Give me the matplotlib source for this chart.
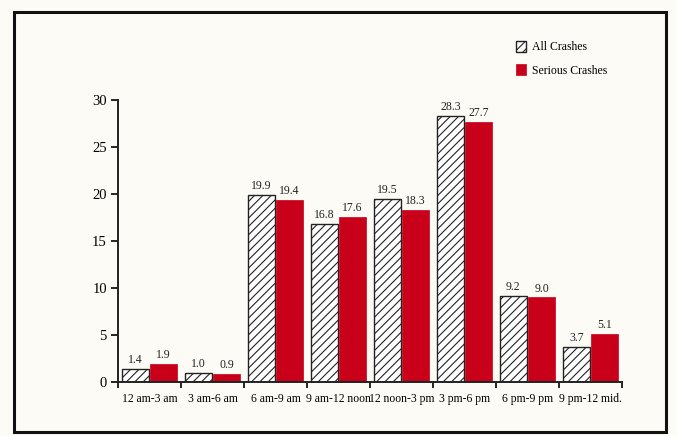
import matplotlib
matplotlib.use("Agg")
import matplotlib.pyplot as plt
from matplotlib.patches import Rectangle
import numpy as np

categories = ["12 am-3 am", "3 am-6 am", "6 am-9 am", "9 am-12 noon",
              "12 noon-3 pm", "3 pm-6 pm", "6 pm-9 pm", "9 pm-12 mid."]
all_crashes = [1.4, 1.0, 19.9, 16.8, 19.5, 28.3, 9.2, 3.7]
serious_crashes = [1.9, 0.9, 19.4, 17.6, 18.3, 27.7, 9.0, 5.1]
yticks = [0, 5, 10, 15, 20, 25, 30]

plt.rcParams['font.family'] = ['Liberation Serif', 'DejaVu Serif']
plt.rcParams['hatch.linewidth'] = 0.8

W, H = 677, 436
bg = '#fcfbf5'
red = '#c8001a'
fig = plt.figure(figsize=(W / 100, H / 100), dpi=100, facecolor=bg)

# outer frame
fig.patches.append(Rectangle((14 / W, 1 - 432 / H), (666 - 14) / W, (432 - 12) / H,
                             transform=fig.transFigure, fill=False,
                             edgecolor='#111111', linewidth=2.2))

ax = fig.add_axes([118 / W, 1 - 382 / H, (622 - 118) / W, (382 - 100) / H])
ax.set_facecolor(bg)
ax.patch.set_alpha(0)

x = np.arange(len(categories))
bw = 0.42
b1 = ax.bar(x - bw / 2 - 0.015, all_crashes, bw, color='white', edgecolor='#222222',
            hatch='////', linewidth=1.0, label='All Crashes')
b2 = ax.bar(x + bw / 2 + 0.015, serious_crashes, bw, color=red, edgecolor=red,
            linewidth=0.5, label='Serious Crashes')

for rect, v in zip(b1, all_crashes):
    ax.text(rect.get_x() + rect.get_width() / 2, v + 0.3, f"{v:.1f}",
            ha='center', va='bottom', fontsize=8.5, color='#222222')
for rect, v in zip(b2, serious_crashes):
    ax.text(rect.get_x() + rect.get_width() / 2, v + 0.3, f"{v:.1f}",
            ha='center', va='bottom', fontsize=8.5, color='#222222')

ax.set_xlim(-0.5, len(categories) - 0.5)
ax.set_ylim(0, 30)
ax.set_yticks(yticks)
ax.set_yticklabels([str(t) for t in yticks], fontsize=10.5)
ax.set_xticks(x)
ax.set_xticklabels(categories, fontsize=8.4)
ax.tick_params(axis='x', which='major', length=0, pad=8)
ax.set_xticks(np.arange(len(categories) + 1) - 0.5, minor=True)
ax.tick_params(axis='x', which='minor', length=4, width=1.2, direction='out')
ax.tick_params(axis='y', length=5, width=1.2, direction='out', pad=3)

for s in ['top', 'right']:
    ax.spines[s].set_visible(False)
for s in ['left', 'bottom']:
    ax.spines[s].set_linewidth(1.4)
    ax.spines[s].set_color('#222222')

leg = fig.legend(handles=[b1, b2], loc='upper left',
                 bbox_to_anchor=(505 / W, 1 - 30 / H), frameon=False,
                 fontsize=8.5, handlelength=0.9, handleheight=1.1,
                 labelspacing=0.9, handletextpad=0.5)

fig.savefig('out.png', dpi=100, facecolor=bg)
